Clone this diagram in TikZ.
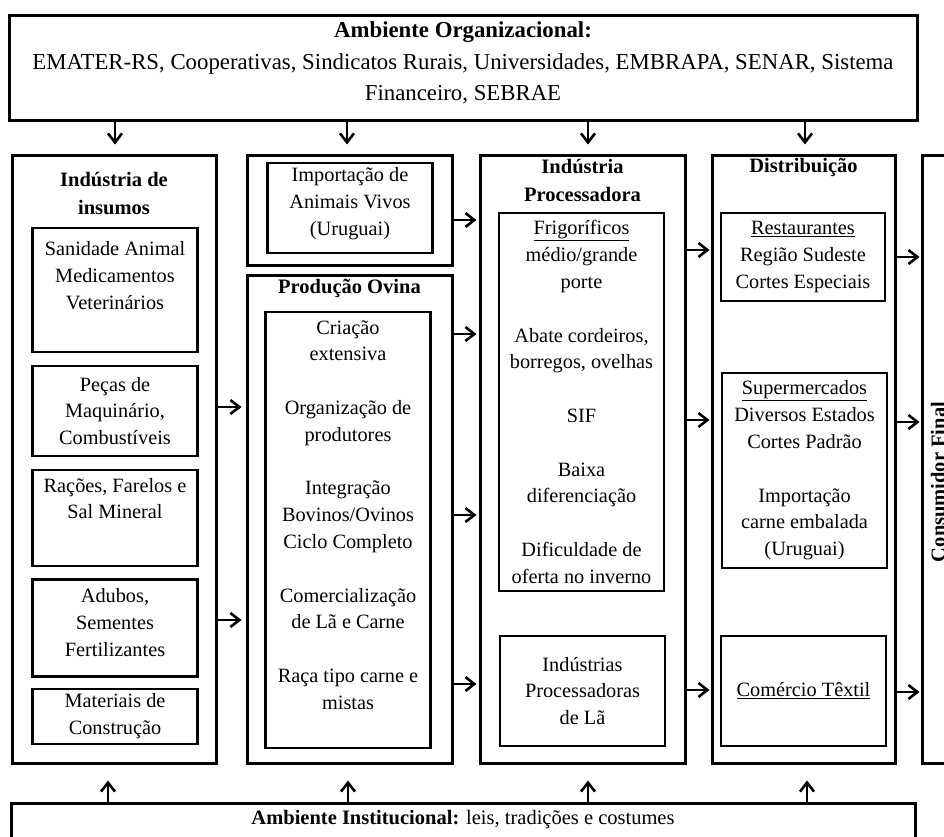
\documentclass[tikz,border=0pt]{standalone}
\usepackage{fontspec}
\setmainfont{Liberation Serif}
\usepackage{tikz}
\usetikzlibrary{arrows.meta}

\begin{document}
\begin{tikzpicture}[x=1pt, y=-1pt,
  outer/.style={draw, line width=3pt, inner sep=0pt},
  inner/.style={draw, line width=2.2pt, inner sep=0pt, minimum width=165pt,
                font=\fontsize{20.3}{26.8}\selectfont, align=center},
  txt/.style={font=\fontsize{20.3}{26.8}\selectfont, align=center, inner sep=0pt},
  ttl/.style={font=\fontsize{20.5}{27.5}\selectfont\bfseries, align=center, inner sep=0pt},
  arr/.style={line width=2.6pt, -{Straight Barb[length=9pt, width=14pt]}},
]
  \useasboundingbox (0,0) rectangle (944,836);

  \node[outer, minimum width=908pt, minimum height=105pt] (org) at (463,67.5) {};
  \node[txt, font=\fontsize{22.8}{31.5}\selectfont] (orgtxt) at (463,63)
    {{\bfseries Ambiente Organizacional:}\\EMATER-RS, Cooperativas, Sindicatos Rurais, Universidades, EMBRAPA, SENAR, Sistema\\Financeiro, SEBRAE};

  \node[outer, minimum width=204pt, minimum height=608pt] (ins) at (114,459) {};
  \node[ttl] (insttl) at (114,193.5) {Indústria de\\insumos};
  \node[inner, minimum height=124pt] (san) at (115,290) {};
  \node[txt] (santxt) at (115,275.5) {Sanidade Animal\\Medicamentos\\Veterinários};
  \node[inner, minimum height=90pt] (pecas) at (115,411) {Peças de\\Maquinário,\\Combustíveis};
  \node[inner, minimum height=96pt] (racoes) at (115,518) {};
  \node[txt] (racoestxt) at (115,498.5) {Rações, Farelos e\\Sal Mineral};
  \node[inner, minimum height=97pt] (adubos) at (115,628) {};
  \node[txt] (adubostxt) at (115,622.5) {Adubos,\\Sementes\\Fertilizantes};
  \node[inner, minimum height=55pt] (mat) at (115,716.5) {Materiais de\\Construção};

  \node[outer, minimum width=205pt, minimum height=110pt] (imp) at (349.5,210) {};
  \node[inner, minimum height=90pt] (impin) at (350,208) {};
  \node[txt] (imptxt) at (350,203.5) {Importação de\\Animais Vivos\\(Uruguai)};
  \node[outer, minimum width=205pt, minimum height=488pt] (ovina) at (349.5,519) {};
  \node[ttl] (ovinattl) at (349.5,288) {Produção Ovina};
  \node[inner, minimum height=436pt] (ovin) at (348,530) {};
  \node[txt] (ovintxt) at (348,515)
    {Criação\\extensiva\\[26.8pt]Organização de\\produtores\\[26.8pt]Integração\\Bovinos/Ovinos\\Ciclo Completo\\[26.8pt]Comercialização\\de Lã e Carne\\[26.8pt]Raça tipo carne e\\mistas};

  \node[outer, minimum width=205pt, minimum height=608pt] (proc) at (582.5,459) {};
  \node[ttl] (procttl) at (582.5,180.5) {Indústria\\Processadora};
  \node[inner, minimum height=378pt] (frig) at (581.5,402)
    {\underline{Frigoríficos}\\médio/grande\\porte\\[26.8pt]Abate cordeiros,\\borregos, ovelhas\\[26.8pt]SIF\\[26.8pt]Baixa\\diferenciação\\[26.8pt]Dificuldade de\\oferta no inverno};
  \node[inner, minimum height=110pt] (lana) at (582.5,691) {Indústrias\\Processadoras\\de Lã};

  \node[outer, minimum width=183pt, minimum height=608pt] (dist) at (803.5,459) {};
  \node[ttl] (distttl) at (803.5,167) {Distribuição};
  \node[inner, minimum width=164pt, minimum height=88pt] (rest) at (803,257)
    {\underline{Restaurantes}\\Região Sudeste\\Cortes Especiais};
  \node[inner, minimum height=195pt] (super) at (804.5,470.5)
    {\underline{Supermercados}\\Diversos Estados\\Cortes Padrão\\[26.8pt]Importação\\carne embalada\\(Uruguai)};
  \node[inner, minimum height=110pt] (textil) at (803.5,691) {\underline{Comércio Têxtil}};

  \node[outer, minimum width=40pt, minimum height=608pt] (cons) at (942,459) {};
  \node[ttl, rotate=90] (constxt) at (938,482) {Consumidor Final};

  \node[outer, minimum width=904pt, minimum height=60pt] (inst) at (463,833) {};
  \node[txt, font=\fontsize{20.5}{26.8}\selectfont] (insttxt) at (463,820)
    {{\bfseries Ambiente Institucional:} leis, tradições e costumes};

  \draw[arr, shorten >=9pt] (org.south -| 115,0) -- (ins.north -| 115,0);
  \draw[arr, shorten >=9pt] (org.south -| 347,0) -- (imp.north -| 347,0);
  \draw[arr, shorten >=9pt] (org.south -| 588,0) -- (proc.north -| 588,0);
  \draw[arr, shorten >=9pt] (org.south -| 805,0) -- (dist.north -| 805,0);

  \draw[arr, shorten >=4pt] (ins.east |- 0,407) -- (ovina.west |- 0,407);
  \draw[arr, shorten >=4pt] (ins.east |- 0,620) -- (ovina.west |- 0,620);

  \draw[arr, shorten >=2pt] (imp.east |- 0,220) -- (proc.west |- 0,220);
  \draw[arr, shorten >=2pt] (ovina.east |- 0,334) -- (proc.west |- 0,334);
  \draw[arr, shorten >=2pt] (ovina.east |- 0,515) -- (proc.west |- 0,515);
  \draw[arr, shorten >=2pt] (ovina.east |- 0,684) -- (proc.west |- 0,684);

  \draw[arr, shorten >=1pt] (proc.east |- 0,250) -- (dist.west |- 0,250);
  \draw[arr, shorten >=1pt] (proc.east |- 0,420) -- (dist.west |- 0,420);
  \draw[arr, shorten >=1pt] (proc.east |- 0,690) -- (dist.west |- 0,690);

  \draw[arr, shorten >=1pt] (dist.east |- 0,257) -- (cons.west |- 0,257);
  \draw[arr, shorten >=1pt] (dist.east |- 0,422) -- (cons.west |- 0,422);
  \draw[arr, shorten >=1pt] (dist.east |- 0,692) -- (cons.west |- 0,692);

  \draw[arr, shorten >=16pt] (inst.north -| 108,0) -- (ins.south -| 108,0);
  \draw[arr, shorten >=16pt] (inst.north -| 348,0) -- (ovina.south -| 348,0);
  \draw[arr, shorten >=16pt] (inst.north -| 588,0) -- (proc.south -| 588,0);
  \draw[arr, shorten >=16pt] (inst.north -| 807,0) -- (dist.south -| 807,0);
\end{tikzpicture}
\end{document}
